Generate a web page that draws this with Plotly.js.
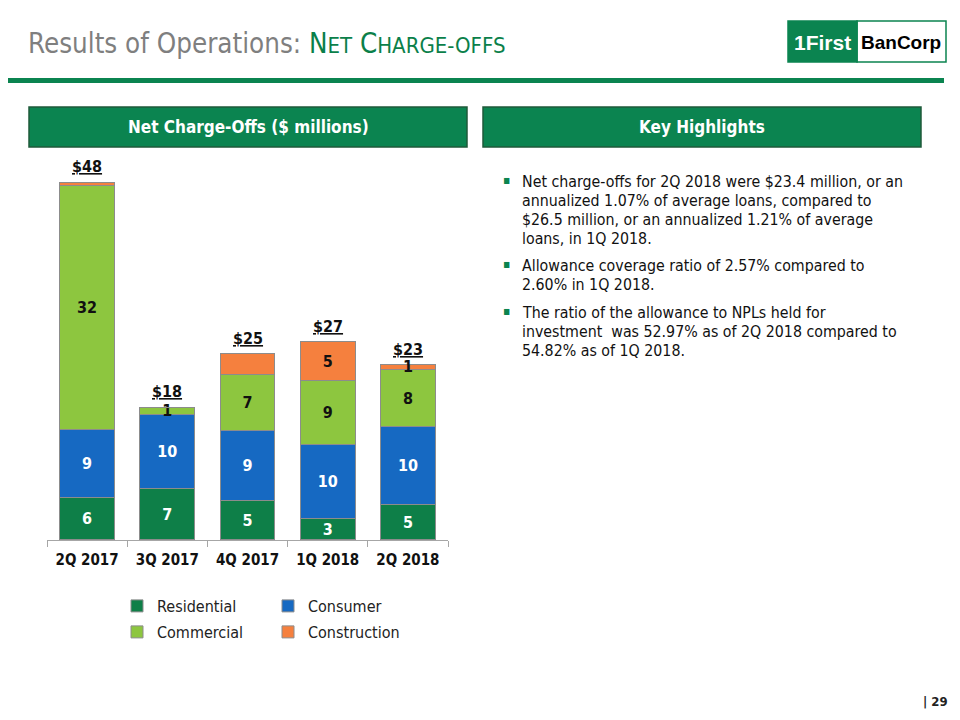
<!DOCTYPE html>
<html>
<head>
<meta charset="utf-8">
<script src="https://cdn.plot.ly/plotly-3.0.1.min.js"></script>
<style>html,body{margin:0;padding:0;background:#fff;}#chart{width:960px;height:720px;}</style>
</head>
<body>
<div id="chart"></div>
<script>
// ---- data ----
const quarters = ['2Q 2017', '3Q 2017', '4Q 2017', '1Q 2018', '2Q 2018'];
const residential = [5.7, 6.9, 5.3, 2.9, 4.8];
const consumer = [9.1, 9.9, 9.3, 9.8, 10.3];
const commercial = [32.5, 0.9, 7.5, 8.6, 7.7];
const construction = [0.5, 0, 2.8, 5.2, 0.6];
const residentialLabels = ['6', '7', '5', '3', '5'];
const consumerLabels = ['9', '10', '9', '10', '10'];
const commercialLabels = ['32', '1', '7', '9', '8'];
const constructionLabels = ['', '', '', '5', '1'];
const totalLabels = ['$48', '$18', '$25', '$27', '$23'];
const bullets = [
  ['Net charge-offs for 2Q 2018 were $23.4 million, or an', 'annualized 1.07% of average loans, compared to', '$26.5 million, or an annualized 1.21% of average', 'loans, in 1Q 2018.'],
  ['Allowance coverage ratio of 2.57% compared to', '2.60% in 1Q 2018.'],
  ['The ratio of the allowance to NPLs held for', 'investment  was 52.97% as of 2Q 2018 compared to', '54.82% as of 1Q 2018.']
];

// ---- styling ----
const BODY = '"DejaVu Sans Condensed", "DejaVu Sans", sans-serif';
const GREEN = '#0b8450';
const px = v => v / 960;
const py = v => (720 - v) / 720;

function barTrace(name, y, text, color, txtColor, legend) {
  return {
    type: 'bar', name: name, x: quarters, y: y, text: text,
    textposition: 'inside', insidetextanchor: 'middle', textangle: 0,
    textfont: {family: BODY, size: 16, color: txtColor, weight: 'bold'},
    marker: {color: color, line: {color: '#8c8c8c', width: 1}},
    legend: legend, hoverinfo: 'skip', cliponaxis: false
  };
}

const traces = [
  barTrace('Residential', residential, residentialLabels, '#0e7f48', '#ffffff', 'legend'),
  barTrace('Consumer', consumer, consumerLabels, '#1669c2', '#ffffff', 'legend'),
  barTrace('Commercial', commercial, commercialLabels, '#8dc63f', '#111111', 'legend2'),
  barTrace('Construction', construction, constructionLabels, '#f5803e', '#111111', 'legend2')
];

const totals = quarters.map((q, i) => residential[i] + consumer[i] + commercial[i] + construction[i]);

const annotations = [];
quarters.forEach((q, i) => {
  annotations.push({
    x: q, y: totals[i], xref: 'x', yref: 'y', text: '<u>' + totalLabels[i] + '</u>',
    showarrow: false, yanchor: 'bottom', yshift: 4,
    font: {family: BODY, size: 16, color: '#111', weight: 'bold'}
  });
});

// title
annotations.push({
  xref: 'paper', yref: 'paper', x: px(26), y: py(43), xanchor: 'left', yanchor: 'middle',
  showarrow: false,
  text: 'Results of Operations: <span style="color:#0b7f4a">N<span style="font-size:22px">ET</span> C<span style="font-size:22px">HARGE-OFFS</span></span>',
  font: {family: BODY, size: 27.5, color: '#7f7f7f'}
});
// header texts
annotations.push({xref: 'paper', yref: 'paper', x: px(248), y: py(127), xanchor: 'center', yanchor: 'middle',
  showarrow: false, text: 'Net Charge-Offs ($ millions)', font: {family: BODY, size: 17, color: '#fff', weight: 'bold'}});
annotations.push({xref: 'paper', yref: 'paper', x: px(702), y: py(127), xanchor: 'center', yanchor: 'middle',
  showarrow: false, text: 'Key Highlights', font: {family: BODY, size: 17, color: '#fff', weight: 'bold'}});
// logo texts
annotations.push({xref: 'paper', yref: 'paper', x: px(822), y: py(42), xanchor: 'center', yanchor: 'middle',
  showarrow: false, text: '<b>1First</b>', font: {family: '"Liberation Sans Narrow", "Liberation Sans", Arial, sans-serif', size: 21, color: '#fff'}});
annotations.push({xref: 'paper', yref: 'paper', x: px(901), y: py(42), xanchor: 'center', yanchor: 'middle',
  showarrow: false, text: '<b>BanCorp</b>', font: {family: '"Liberation Sans", Arial, sans-serif', size: 19, color: '#000'}});
// bullets
const bulletTops = [181, 265, 312];
const lineStep = 19.3;
bullets.forEach((lines, i) => {
  lines.forEach((ln, j) => {
    annotations.push({xref: 'paper', yref: 'paper', x: px(520), y: py(bulletTops[i] + j * lineStep), xanchor: 'left', yanchor: 'middle',
      align: 'left', showarrow: false, text: ln, font: {family: BODY, size: 15.8, color: '#111'}});
  });
  annotations.push({xref: 'paper', yref: 'paper', x: px(506), y: py(bulletTops[i] - 1), xanchor: 'center', yanchor: 'middle',
    showarrow: false, text: '▪', font: {family: BODY, size: 12, color: GREEN}});
});
// page number
annotations.push({xref: 'paper', yref: 'paper', x: px(950), y: py(701), xanchor: 'right', yanchor: 'middle',
  showarrow: false, text: '<b>| 29</b>', font: {family: BODY, size: 13, color: '#222'}});

const shapes = [
  {type: 'rect', xref: 'paper', yref: 'paper', x0: px(8), x1: px(944), y0: py(83), y1: py(78), fillcolor: GREEN, line: {width: 0}},
  {type: 'rect', xref: 'paper', yref: 'paper', x0: px(29), x1: px(467), y0: py(147), y1: py(107), fillcolor: GREEN, line: {color: '#1f5a3a', width: 1.5}},
  {type: 'rect', xref: 'paper', yref: 'paper', x0: px(483), x1: px(921), y0: py(147), y1: py(107), fillcolor: GREEN, line: {color: '#1f5a3a', width: 1.5}},
  {type: 'rect', xref: 'paper', yref: 'paper', x0: px(857), x1: px(946), y0: py(62), y1: py(21), fillcolor: '#fff', line: {color: GREEN, width: 1.5}},
  {type: 'rect', xref: 'paper', yref: 'paper', x0: px(788), x1: px(857), y0: py(62), y1: py(21), fillcolor: GREEN, line: {color: GREEN, width: 1.5}}
];

const legendCommon = {orientation: 'h', xanchor: 'left', yanchor: 'middle', bgcolor: 'rgba(0,0,0,0)', traceorder: 'normal',
  font: {family: BODY, size: 16, color: '#222'}, entrywidth: 106, entrywidthmode: 'pixels', itemclick: false, itemdoubleclick: false};

const layout = {
  width: 960, height: 720,
  margin: {l: 0, r: 0, t: 0, b: 0},
  paper_bgcolor: '#fff', plot_bgcolor: '#fff',
  barmode: 'stack', bargap: 0.315,
  showlegend: true,
  uniformtext: {mode: 'show', minsize: 16},
  xaxis: {domain: [px(47), px(448)], type: 'category', showline: true, linecolor: '#a6a6a6', linewidth: 1,
    ticks: 'outside', tickson: 'boundaries', ticklen: 6, tickcolor: '#a6a6a6', showgrid: false, zeroline: false,
    ticklabelstandoff: 6,
    tickfont: {family: BODY, size: 15, color: '#111', weight: 'bold'}, fixedrange: true},
  yaxis: {domain: [0.25, 0.7701], range: [0, 50], visible: false, showgrid: false, zeroline: false, fixedrange: true},
  legend: Object.assign({}, legendCommon, {x: px(117), y: py(606)}),
  legend2: Object.assign({}, legendCommon, {x: px(117), y: py(632)}),
  annotations: annotations,
  shapes: shapes
};

Plotly.newPlot('chart', traces, layout, {displayModeBar: false, staticPlot: true});
</script>
</body>
</html>
